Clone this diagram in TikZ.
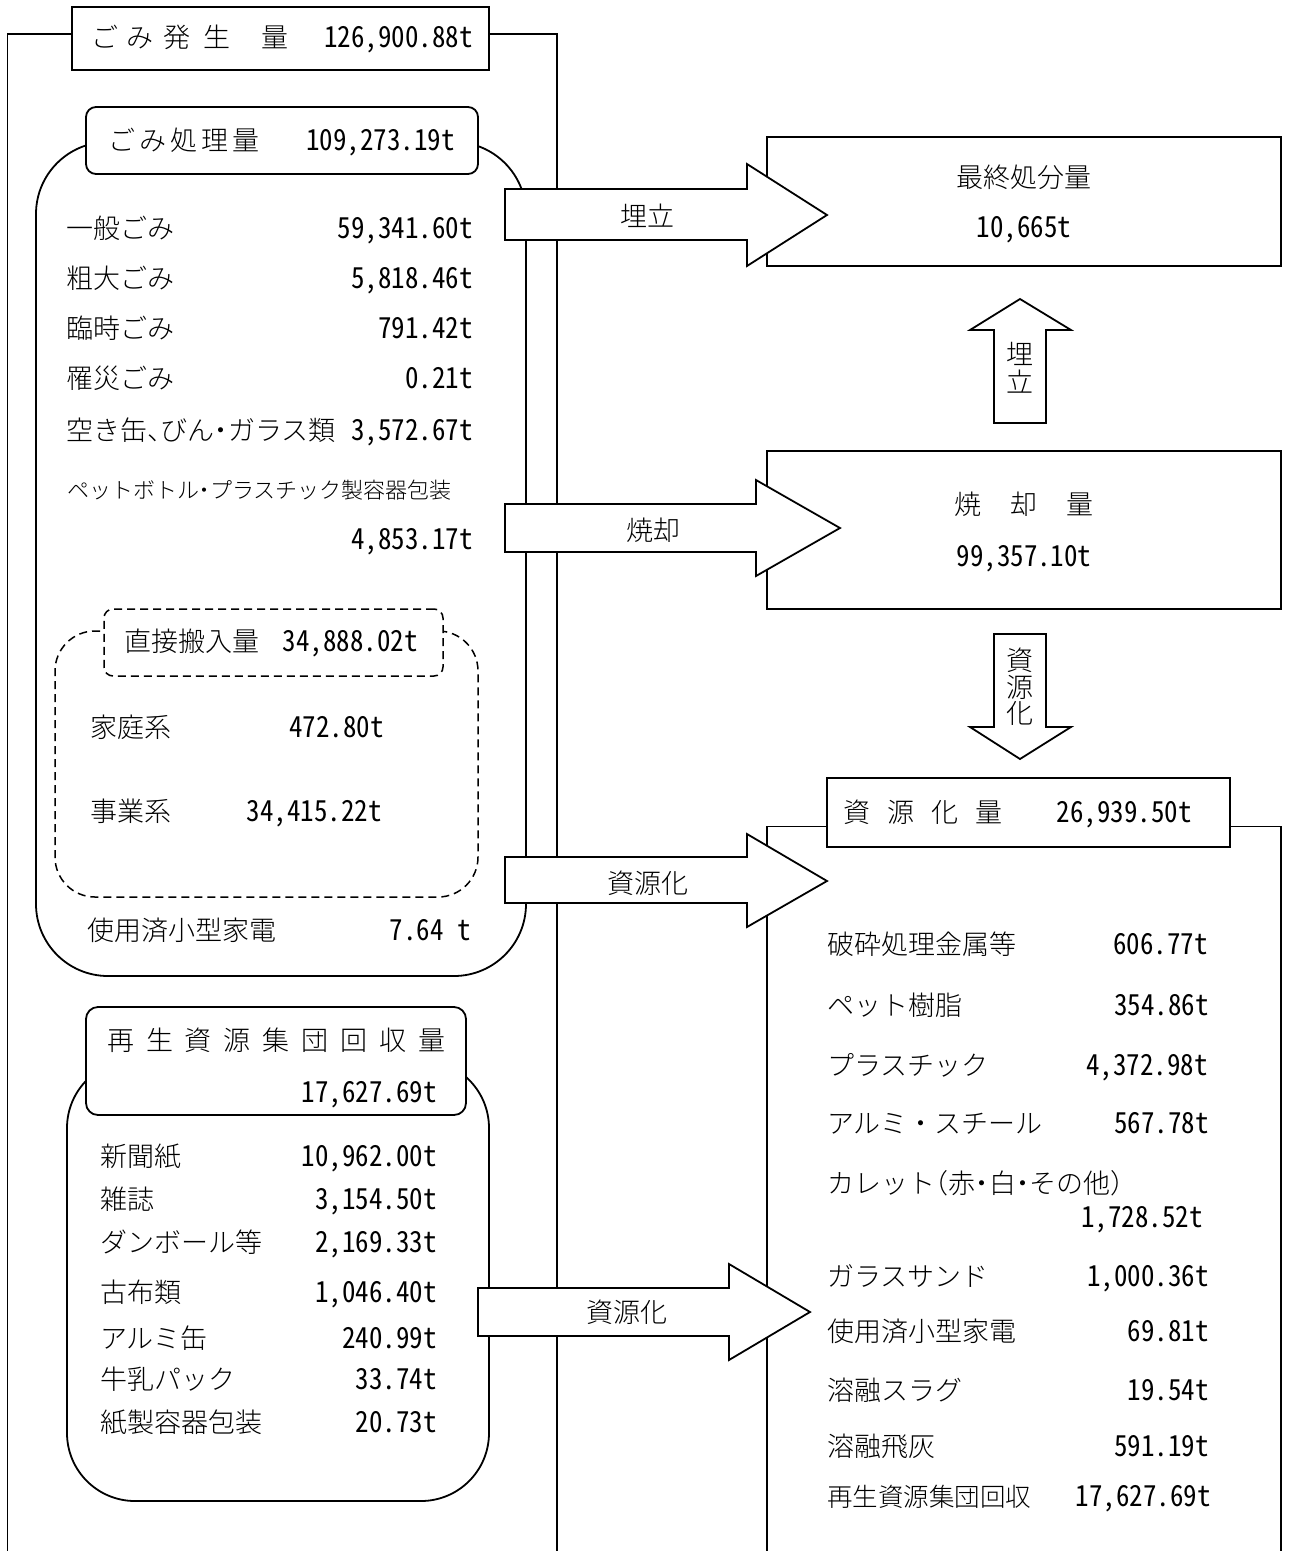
\documentclass[tikz,border=0pt]{standalone}
\usepackage{fontspec}
\IfFontExistsTF{Noto Sans CJK JP Light}
  {\newfontfamily\jp{Noto Sans CJK JP Light}}
  {\newfontfamily\jp{Noto Sans CJK JP}}
\newfontfamily\nm{Noto Sans CJK JP}[CharacterWidth=Half, FakeStretch=0.93]
\newcommand{\jspc}[2]{\makebox[#1][l]{#2}}
\newcommand{\hwc}[1]{\makebox[0.5em][c]{#1}}
\newcommand{\hwl}[1]{\makebox[0.5em][l]{#1}}
\newcommand{\hwr}[1]{\makebox[0.5em][r]{#1}}
\begin{document}
\begin{tikzpicture}[x=1pt,y=-1pt,
  frameline/.style={line width=1.5pt},
  bx/.style={draw, line width=1.8pt, fill=white, inner sep=0pt, outer sep=0pt},
  dbx/.style={draw, line width=1.5pt, dash pattern=on 8pt off 5pt, fill=white, inner sep=0pt, outer sep=0pt},
  arr/.style={draw, line width=1.8pt, fill=white, line join=miter},
  lab/.style={anchor=west, inner sep=0pt, font=\jp\fontsize{27}{30}\selectfont, text height=23pt, text depth=4pt},
  num/.style={anchor=east, inner sep=0pt, font=\nm\fontsize{29}{30}\selectfont, text height=23pt, text depth=4pt},
  ctr/.style={anchor=center, inner sep=0pt, font=\jp\fontsize{27}{30}\selectfont, text height=23pt, text depth=4pt},
  ctrn/.style={anchor=center, inner sep=0pt, font=\nm\fontsize{29}{30}\selectfont, text height=23pt, text depth=4pt},
]
\useasboundingbox (0,0) rectangle (1290,1551);

% ---------- outer frame ----------
\coordinate (frameL) at (7.5,34);
\coordinate (frameR) at (557,34);
\coordinate (frameLb) at (7.5,1551);
\coordinate (frameRb) at (557,1551);
\node[bx, minimum width=417pt, minimum height=63pt] (gen) at (280.5,38.5) {};
\draw[frameline] (gen.west |- frameL) -- (frameL) -- (frameLb);
\draw[frameline] (gen.east |- frameR) -- (frameR) -- (frameRb);

% ---------- processing block ----------
\node[bx, rounded corners=72pt, minimum width=490pt, minimum height=834pt] (proc) at (281,559) {};
\node[bx, rounded corners=10pt, minimum width=392pt, minimum height=67pt] (prochd) at (282,140.5) {};
\node[dbx, rounded corners=40pt, minimum width=423pt, minimum height=266pt] (direct) at (266.5,764) {};
\node[dbx, rounded corners=9pt, minimum width=339pt, minimum height=67pt] (directhd) at (273.5,642.5) {};

% ---------- group collection block ----------
\node[bx, rounded corners=68pt, minimum width=422pt, minimum height=441pt] (rec) at (278,1280.5) {};
\node[bx, rounded corners=12pt, minimum width=380pt, minimum height=108pt] (rechd) at (276,1061) {};

% ---------- right boxes ----------
\node[bx, minimum width=514pt, minimum height=129pt] (final) at (1024,201.5) {};
\node[bx, minimum width=514pt, minimum height=158pt] (incin) at (1024,530) {};
\coordinate (resTL) at (767,826.5);
\coordinate (resTR) at (1281,826.5);
\draw[line width=1.8pt] (767,1551) -- (resTL) -- (resTR) -- (1281,1551);
\node[bx, minimum width=403pt, minimum height=69pt] (resq) at (1028.5,812.5) {};

% ---------- block arrows ----------
\draw[arr] (505,189) -- (747,189) -- (747,164) -- (827,215) -- (747,266) -- (747,240) -- (505,240) -- cycle;
\draw[arr] (505,504) -- (756,504) -- (756,480) -- (840,528) -- (756,576) -- (756,552) -- (505,552) -- cycle;
\draw[arr] (505,857) -- (747,857) -- (747,834) -- (827,881) -- (747,927) -- (747,903) -- (505,903) -- cycle;
\draw[arr] (478,1288) -- (729,1288) -- (729,1264) -- (810,1312) -- (729,1360) -- (729,1336) -- (478,1336) -- cycle;
\draw[arr] (994,423) -- (994,330) -- (970,330) -- (1020,299) -- (1071,330) -- (1046,330) -- (1046,423) -- cycle;
\draw[arr] (994,634) -- (994,727) -- (970,727) -- (1020,759) -- (1071,727) -- (1046,727) -- (1046,634) -- cycle;

\node[ctr] (a1) at (647,217) {埋立};
\node[ctr] (a2) at (653,531) {焼却};
\node[ctr] (a3) at (648,884) {資源化};
\node[ctr] (a4) at (627,1313) {資源化};
\node[ctr] (u1) at (1020,355) {埋};
\node[ctr] (u2) at (1020,383) {立};
\node[ctr] (d1) at (1020,661) {資};
\node[ctr] (d2) at (1020,688) {源};
\node[ctr] (d3) at (1020,714) {化};

% ---------- texts: generation ----------
\node[lab] (genl) at (91,38) {\jspc{35pt}{ご}\jspc{37pt}{み}\jspc{40pt}{発}\jspc{58pt}{生}量};
\node[num] (genn) at (473,38) {126,900.88t};

% ---------- texts: processing ----------
\node[lab] (prol) at (108,140.5) {\jspc{31pt}{ご}\jspc{31pt}{み}\jspc{31pt}{処}\jspc{31pt}{理}量};
\node[num] (pron) at (455,140.5) {109,273.19t};
\node[lab] (p1l) at (66,229) {一般ごみ};   \node[num] (p1n) at (473,229) {59,341.60t};
\node[lab] (p2l) at (66,279) {粗大ごみ};   \node[num] (p2n) at (473,279) {5,818.46t};
\node[lab] (p3l) at (66,329) {臨時ごみ};   \node[num] (p3n) at (473,329) {791.42t};
\node[lab] (p4l) at (66,379) {罹災ごみ};   \node[num] (p4n) at (473,379) {0.21t};
\node[lab] (p5l) at (66,431) {空き缶\hwl{、}びん\hwc{・}ガラス類}; \node[num] (p5n) at (473,431) {3,572.67t};
\node[lab, font=\jp\fontsize{22}{24}\selectfont] (p6l) at (67,489) {ペットボトル\hwc{・}プラスチック製容器包装};
\node[num] (p6n) at (473,540) {4,853.17t};

\node[lab] (dhl) at (124,642) {直接搬入量}; \node[num] (dhn) at (418,642) {34,888.02t};
\node[lab] (d1l) at (90,728) {家庭系};     \node[num] (d1n) at (384,728) {472.80t};
\node[lab] (d2l) at (90,812) {事業系};     \node[num] (d2n) at (382,812) {34,415.22t};
\node[lab] (p7l) at (87,931) {使用済小型家電}; \node[num] (p7n) at (471,931) {7.64 t};

% ---------- texts: group collection ----------
\node[lab] (rhl) at (107,1041) {\jspc{38.9pt}{再}\jspc{38.9pt}{生}\jspc{38.9pt}{資}\jspc{38.9pt}{源}\jspc{38.9pt}{集}\jspc{38.9pt}{団}\jspc{38.9pt}{回}\jspc{38.9pt}{収}量};
\node[num] (rhn) at (437,1093) {17,627.69t};
\node[lab] (r1l) at (100,1157) {新聞紙};       \node[num] (r1n) at (437,1157) {10,962.00t};
\node[lab] (r2l) at (100,1200) {雑誌};         \node[num] (r2n) at (437,1200) {3,154.50t};
\node[lab] (r3l) at (100,1243) {ダンボール等}; \node[num] (r3n) at (437,1243) {2,169.33t};
\node[lab] (r4l) at (100,1293) {古布類};       \node[num] (r4n) at (437,1293) {1,046.40t};
\node[lab] (r5l) at (100,1339) {アルミ缶};     \node[num] (r5n) at (437,1339) {240.99t};
\node[lab] (r6l) at (100,1380) {牛乳パック};   \node[num] (r6n) at (437,1380) {33.74t};
\node[lab] (r7l) at (100,1423) {紙製容器包装}; \node[num] (r7n) at (437,1423) {20.73t};

% ---------- texts: right boxes ----------
\node[ctr] (fl) at (1024,178) {最終処分量};
\node[ctrn] (fn) at (1024,228) {10,665t};
\node[ctr] (il) at (1024,505) {\jspc{56pt}{焼}\jspc{56pt}{却}量};
\node[ctrn] (in) at (1024,557) {99,357.10t};
\node[lab] (ql) at (843,813) {\jspc{44pt}{資}\jspc{44pt}{源}\jspc{44pt}{化}量};
\node[num] (qn) at (1192,813) {26,939.50t};

\node[lab] (s1l) at (827,945)  {破砕処理金属等};   \node[num] (s1n) at (1208,945)  {606.77t};
\node[lab] (s2l) at (827,1006) {ペット樹脂};       \node[num] (s2n) at (1209,1006) {354.86t};
\node[lab] (s3l) at (827,1066) {プラスチック};     \node[num] (s3n) at (1208,1066) {4,372.98t};
\node[lab] (s4l) at (827,1124) {アルミ・スチール}; \node[num] (s4n) at (1209,1124) {567.78t};
\node[lab] (s5l) at (827,1184) {カレット\hwr{（}赤\hwc{・}白\hwc{・}その他\hwl{）}};
\node[num] (s5n) at (1203,1218) {1,728.52t};
\node[lab] (s6l) at (827,1277) {ガラスサンド};     \node[num] (s6n) at (1209,1277) {1,000.36t};
\node[lab] (s7l) at (827,1332) {使用済小型家電};   \node[num] (s7n) at (1209,1332) {69.81t};
\node[lab] (s8l) at (827,1391) {溶融スラグ};       \node[num] (s8n) at (1209,1391) {19.54t};
\node[lab] (s9l) at (827,1447) {溶融飛灰};         \node[num] (s9n) at (1209,1447) {591.19t};
\node[lab, font=\jp\fontsize{25.5}{28}\selectfont] (s10l) at (827,1497) {再生資源集団回収}; \node[num] (s10n) at (1211,1497) {17,627.69t};
\end{tikzpicture}
\end{document}
